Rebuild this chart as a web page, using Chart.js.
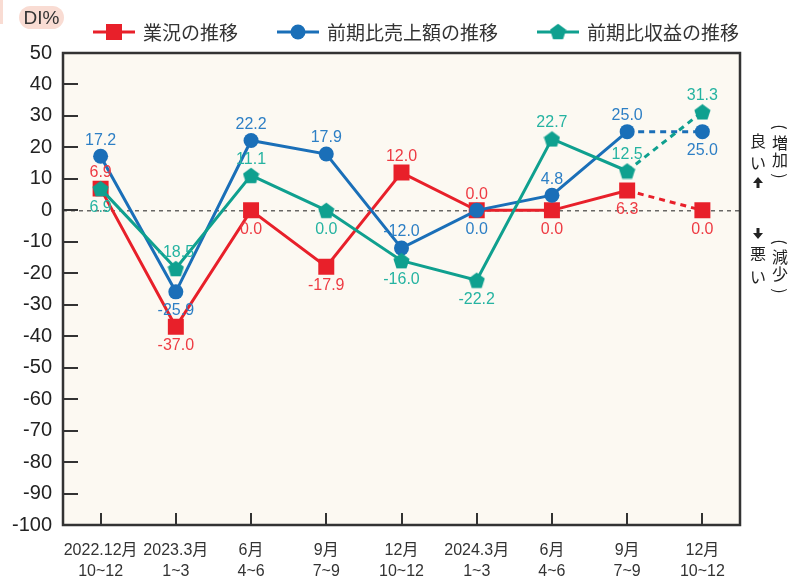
<!DOCTYPE html>
<html><head><meta charset="utf-8">
<script src="https://cdn.jsdelivr.net/npm/chart.js@4"></script>
<style>html,body{margin:0;padding:0;background:#fff}#wrap{width:793px;height:579px;position:relative}</style>
</head><body><div id="wrap"><canvas id="c" width="793" height="579"></canvas></div>
<script>
// ---- data ----
const categories = [["2022.12月","10~12"],["2023.3月","1~3"],["6月","4~6"],["9月","7~9"],["12月","10~12"],["2024.3月","1~3"],["6月","4~6"],["9月","7~9"],["12月","10~12"]];
const seriesNames = ["業況の推移","前期比売上額の推移","前期比収益の推移"];
const gyoukyou = [6.9,-37.0,0.0,-17.9,12.0,0.0,0.0,6.3,0.0];
const uriage   = [17.2,-25.9,22.2,17.9,-12.0,0.0,4.8,25.0,25.0];
const shueki   = [6.9,-18.5,11.1,0.0,-16.0,-22.2,22.7,12.5,31.3];
const yMin = -100, yMax = 50, yStep = 10;
const forecastFrom = 7; // segment from this index on is dashed
// label side per series: a = above, b = below
const labelSides = [
  ['a','b','b','b','a','a','b','b','b'],
  ['a','b','a','a','a','b','a','a','b'],
  ['b','a','a','b','b','b','a','a','a']
];

// ---- styles ----
const lineColors = ['#e8202a','#1a6fb8','#0fa08f'];
const labelColors = ['#ee3b43','#2d7fc5','#25b3a1'];
const CJK = '"Noto Sans CJK JP", "Noto Sans", sans-serif';
const SANS = '"Liberation Sans", Arial, "Noto Sans CJK JP", sans-serif';

function makePentagon(color, s){
  const c = document.createElement('canvas'); c.width = s; c.height = s;
  const x = c.getContext('2d'); x.fillStyle = color; x.beginPath();
  const r = s/2, dy = (s - r*(1+Math.cos(Math.PI/5)))/2;
  for (let i=0;i<5;i++){
    const a = -Math.PI/2 + i*2*Math.PI/5;
    const px = s/2 + r*Math.cos(a), py = r + r*Math.sin(a) + dy;
    if (i) x.lineTo(px,py); else x.moveTo(px,py);
  }
  x.closePath(); x.fill(); return c;
}
const pentagon = makePentagon(lineColors[2], 17);

const dashSeg = { borderDash: ctx => ctx.p0DataIndex >= forecastFrom ? [6,5] : undefined };

const decor = {
  id: 'decor',
  beforeDatasetsDraw(chart){
    const {ctx, chartArea:a} = chart;
    ctx.save();
    ctx.fillStyle = '#fcf9f2';
    ctx.fillRect(a.left, a.top, a.right-a.left, a.bottom-a.top);
    const y0 = chart.scales.y.getPixelForValue(0);
    ctx.strokeStyle = '#222'; ctx.lineWidth = 1; ctx.setLineDash([4,4]);
    ctx.beginPath(); ctx.moveTo(a.left, y0+0.5); ctx.lineTo(a.right, y0+0.5); ctx.stroke();
    ctx.restore();
  },
  afterDatasetsDraw(chart){
    const {ctx, chartArea:a} = chart;
    const xs = chart.scales.x, ys = chart.scales.y;
    ctx.save();
    ctx.strokeStyle = '#333'; ctx.lineWidth = 2.5;
    ctx.strokeRect(a.left, a.top, a.right-a.left, a.bottom-a.top);
    ctx.lineWidth = 2;
    ctx.beginPath();
    ys.ticks.forEach(t => { const y = Math.round(ys.getPixelForValue(t.value)); ctx.moveTo(a.left, y); ctx.lineTo(a.left+15, y); });
    categories.forEach((c,i) => { const x = Math.round(xs.getPixelForValue(i)); ctx.moveTo(x, a.bottom); ctx.lineTo(x, a.bottom-12); });
    ctx.stroke();
    // data labels
    ctx.font = '16px ' + SANS; ctx.textAlign = 'center'; ctx.textBaseline = 'middle';
    chart.data.datasets.forEach((ds, di) => {
      const meta = chart.getDatasetMeta(di);
      ctx.fillStyle = labelColors[di];
      meta.data.forEach((p, j) => {
        const off = labelSides[di][j] === 'a' ? -16 : 19;
        ctx.fillText(ds.data[j].toFixed(1), p.x, p.y + off);
      });
    });
    ctx.restore();
  },
  afterDraw(chart){
    const {ctx} = chart;
    ctx.save();
    // legend
    ctx.font = '19px ' + CJK; ctx.textBaseline = 'middle'; ctx.textAlign = 'left';
    let x = 93; const ly = 32;
    chart.data.datasets.forEach((ds, di) => {
      ctx.strokeStyle = lineColors[di]; ctx.lineWidth = 3;
      ctx.beginPath(); ctx.moveTo(x, ly); ctx.lineTo(x+42, ly); ctx.stroke();
      ctx.fillStyle = lineColors[di];
      const cx = x+21;
      if (di === 0) ctx.fillRect(cx-8, ly-8, 16, 16);
      else if (di === 1) { ctx.beginPath(); ctx.arc(cx, ly, 7.5, 0, Math.PI*2); ctx.fill(); }
      else ctx.drawImage(pentagon, cx-8.5, ly-9);
      ctx.fillStyle = '#333';
      ctx.fillText(ds.label, x+50, ly+1);
      x += 50 + ctx.measureText(ds.label).width + 39;
    });
    // DI% badge
    ctx.fillStyle = '#f9dcd3';
    ctx.fillRect(0, 0, 3, 24);
    ctx.beginPath(); ctx.roundRect(19, 6, 45, 23, 11.5); ctx.fill();
    ctx.fillStyle = '#333'; ctx.font = '19px ' + SANS; ctx.textAlign = 'center';
    ctx.fillText('DI%', 41.5, 18.5);
    // right side annotations
    ctx.font = '16px ' + CJK; ctx.fillStyle = '#222';
    const vchar = (ch, cx, cy) => {
      if (ch === '(' || ch === ')') { ctx.save(); ctx.translate(cx, cy); ctx.rotate(Math.PI/2); ctx.fillText(ch, 0, 0); ctx.restore(); }
      else ctx.fillText(ch, cx, cy);
    };
    [['良',141],['い',163]].forEach(([c,y]) => vchar(c, 758, y));
    [['(',127],['増',143],['加',160],[')',176]].forEach(([c,y]) => vchar(c, 780, y));
    [['悪',254],['い',277]].forEach(([c,y]) => vchar(c, 758, y));
    [['(',242],['減',257],['少',274],[')',291]].forEach(([c,y]) => vchar(c, 780, y));
    const arrow = (cx, cy, dir) => {
      ctx.beginPath();
      ctx.moveTo(cx, cy - 6*dir); ctx.lineTo(cx+5, cy); ctx.lineTo(cx+1.5, cy); ctx.lineTo(cx+1.5, cy+5*dir);
      ctx.lineTo(cx-1.5, cy+5*dir); ctx.lineTo(cx-1.5, cy); ctx.lineTo(cx-5, cy); ctx.closePath(); ctx.fill();
    };
    arrow(758, 183, 1);
    arrow(758, 233, -1);
    ctx.restore();
  }
};

new Chart(document.getElementById('c'), {
  type: 'line',
  data: {
    labels: categories,
    datasets: [
      { label: seriesNames[0], data: gyoukyou, borderColor: lineColors[0], backgroundColor: lineColors[0], borderWidth: 3,
        pointStyle: 'rect', pointRadius: 11.3, pointBorderWidth: 0, segment: dashSeg, order: 2, tension: 0 },
      { label: seriesNames[1], data: uriage, borderColor: lineColors[1], backgroundColor: lineColors[1], borderWidth: 3,
        pointStyle: 'circle', pointRadius: 7.5, pointBorderWidth: 0, segment: dashSeg, order: 1, tension: 0 },
      { label: seriesNames[2], data: shueki, borderColor: lineColors[2], backgroundColor: lineColors[2], borderWidth: 3,
        pointStyle: pentagon, pointRadius: 8, pointBorderWidth: 0, segment: dashSeg, order: 0, tension: 0 }
    ]
  },
  options: {
    responsive: false, animation: false, devicePixelRatio: 1,
    layout: { padding: { top: 53, right: 53, left: 0, bottom: 0 } },
    plugins: { legend: { display: false }, tooltip: { enabled: false } },
    events: [],
    scales: {
      x: {
        offset: true,
        grid: { display: false, drawTicks: false }, border: { display: false },
        ticks: { autoSkip: false, maxRotation: 0, color: '#333', padding: 15,
          font: { family: SANS, size: 16, lineHeight: 1.3 } },
        afterFit(s){ s.height = 54; }
      },
      y: {
        min: yMin, max: yMax,
        grid: { display: false, drawTicks: false }, border: { display: false },
        ticks: { stepSize: yStep, color: '#222', padding: 11, font: { family: SANS, size: 20 } },
        afterFit(s){ s.width = 63; }
      }
    }
  },
  plugins: [decor]
});
</script>
</body></html>
